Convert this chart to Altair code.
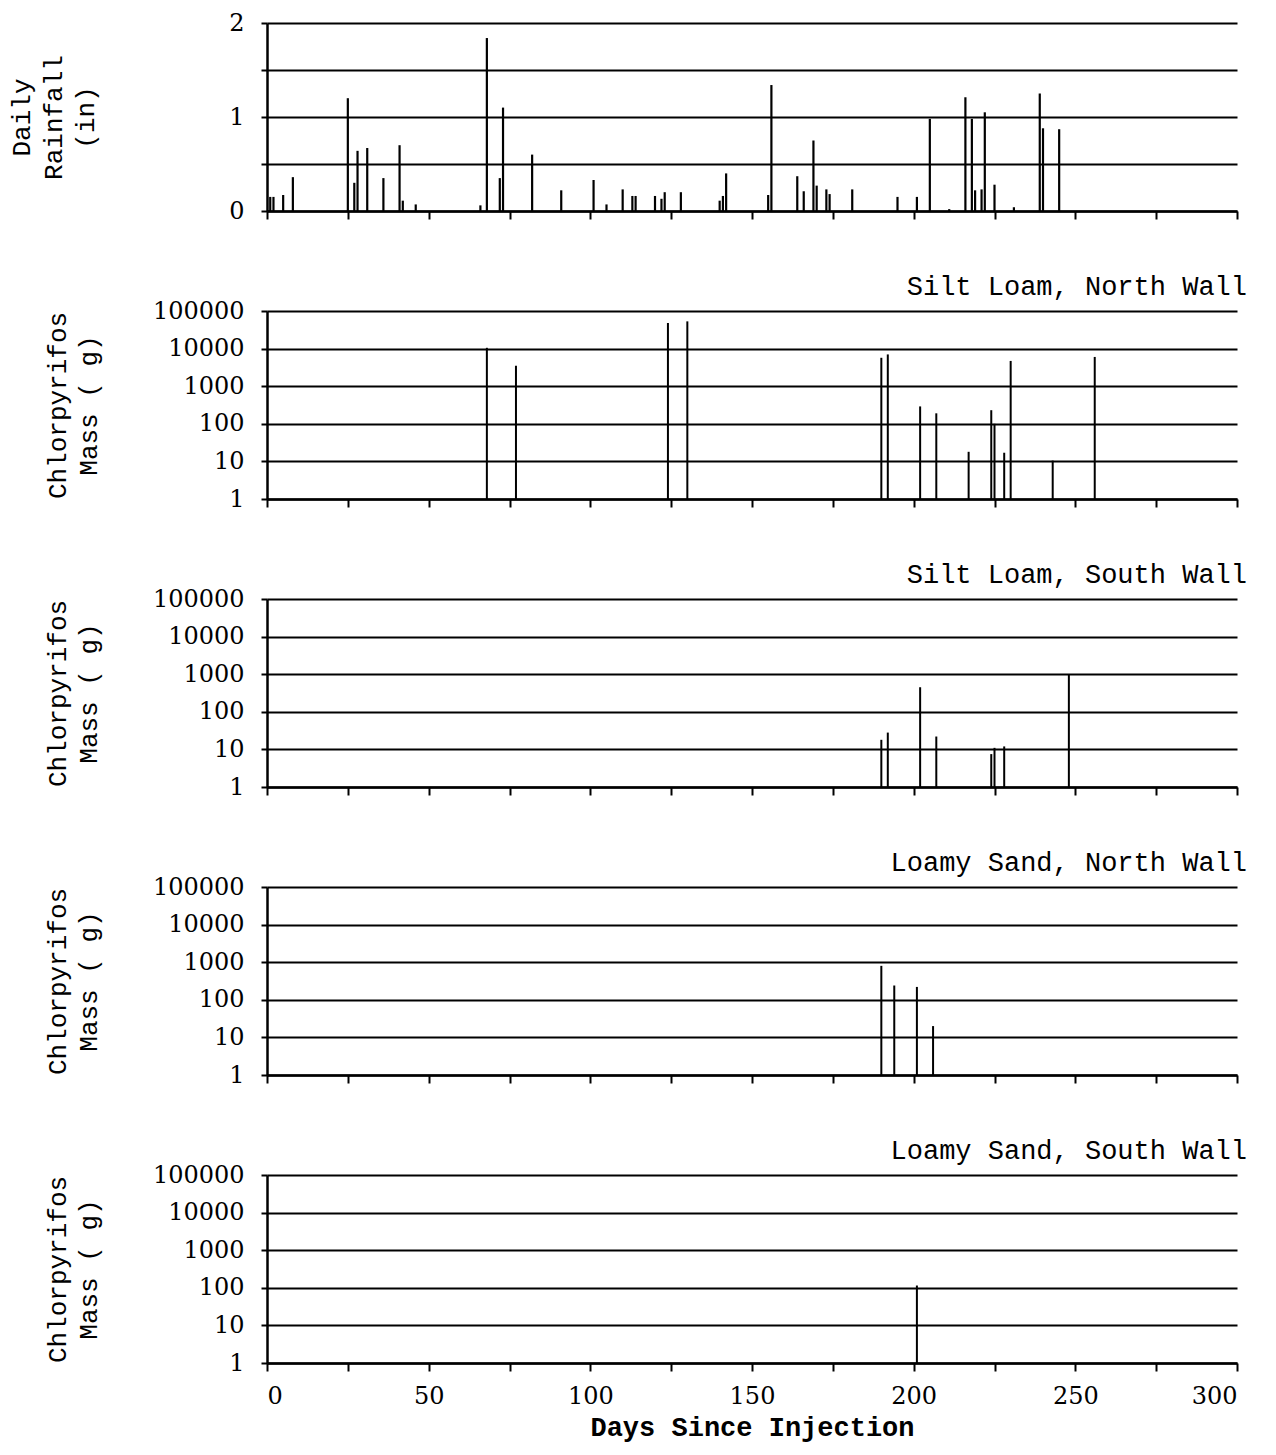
import altair as alt
import pandas as pd

# ---------------- data ----------------
day_ticks = [0, 25, 50, 75, 100, 125, 150, 175, 200, 225, 250, 275, 300]
mass_ticks = [1, 10, 100, 1000, 10000, 100000]
rain_ticks = [0, 0.5, 1, 1.5, 2]

rain_day = [1, 2, 5, 8, 25, 27, 28, 31, 36, 41, 42, 46, 66, 68, 72, 73, 82, 91, 101, 105,
            110, 113, 114, 120, 122, 123, 128, 140, 141, 142, 155, 156, 164, 166, 169, 170,
            173, 174, 181, 195, 201, 205, 211, 216, 218, 219, 221, 222, 225, 231, 239, 240, 245]
rain_in = [0.15, 0.15, 0.17, 0.36, 1.20, 0.30, 0.64, 0.67, 0.35, 0.70, 0.11, 0.07, 0.06, 1.84,
           0.35, 1.10, 0.60, 0.22, 0.33, 0.07, 0.23, 0.16, 0.16, 0.16, 0.13, 0.20, 0.20, 0.11,
           0.16, 0.40, 0.17, 1.34, 0.37, 0.21, 0.75, 0.27, 0.23, 0.18, 0.23, 0.15, 0.15, 0.98,
           0.02, 1.21, 0.98, 0.22, 0.23, 1.05, 0.28, 0.04, 1.25, 0.88, 0.87]

sln_day = [68, 77, 124, 130, 190, 192, 202, 207, 217, 224, 225, 228, 230, 243, 256]
sln_mass = [10500, 3500, 48000, 53000, 5700, 7000, 290, 190, 18, 230, 100, 17, 4700, 10.5, 6000]

sls_day = [190, 192, 202, 207, 224, 225, 228, 248]
sls_mass = [18, 28, 450, 22, 7.5, 11, 12, 960]

lsn_day = [190, 194, 201, 206]
lsn_mass = [800, 240, 220, 20]

lss_day = [201]
lss_mass = [115]

panel_titles = ["Silt Loam, North Wall", "Silt Loam, South Wall",
                "Loamy Sand, North Wall", "Loamy Sand, South Wall"]

# ---------------- style ----------------
W, H = 970, 188
MONO = "Liberation Mono"
SERIF = "DejaVu Serif"
TICK_FS = 24
TITLE_FS = 27


def x_enc(bottom):
    if bottom:
        ax = alt.Axis(values=day_ticks, grid=False, tickSize=8, labelFont=SERIF,
                      labelFontSize=TICK_FS, labelPadding=13,
                      labelExpr="datum.value % 50 == 0 ? datum.label : ''",
                      title="Days Since Injection", titleFont=MONO, titleFontSize=TITLE_FS,
                      titleFontWeight="bold", titlePadding=6)
    else:
        ax = alt.Axis(values=day_ticks, grid=False, tickSize=8, labels=False, title=None)
    return alt.X("day:Q", scale=alt.Scale(domain=[0, 300], nice=False, zero=False), axis=ax)


def mass_panel(days, masses, title, bottom=False, title_offset=-2):
    df = pd.DataFrame({"day": days, "mass": masses})
    y = alt.Y("mass:Q",
              scale=alt.Scale(type="log", domain=[1, 100000], nice=False),
              axis=alt.Axis(values=mass_ticks, format="d", grid=True, tickSize=6,
                            labelFont=SERIF, labelFontSize=TICK_FS, labelPadding=17,
                            labelOverlap=False,
                            title=["Chlorpyrifos", "Mass ( g)"], titleFont=MONO,
                            titleFontSize=TITLE_FS - 1, titleFontWeight="normal",
                            titleLineHeight=31, titlePadding=51))
    return alt.Chart(df).mark_rule(color="black", strokeWidth=2).encode(
        x=x_enc(bottom), y=y, y2=alt.datum(1)
    ).properties(
        width=W, height=H,
        title=alt.TitleParams(text=title, anchor="end", font=MONO, fontSize=TITLE_FS,
                              fontWeight="normal", color="black", offset=title_offset, dx=9)
    )


rain_df = pd.DataFrame({"day": rain_day, "rain": rain_in})
rain = alt.Chart(rain_df).mark_rule(color="black", strokeWidth=2.2).encode(
    x=x_enc(False),
    y=alt.Y("rain:Q", scale=alt.Scale(domain=[0, 2], nice=False),
            axis=alt.Axis(values=rain_ticks, grid=True, tickSize=6,
                          labelExpr="datum.value % 1 == 0 ? format(datum.value, 'd') : ''",
                          labelFont=SERIF, labelFontSize=TICK_FS, labelPadding=17,
                          title=["Daily", "Rainfall", "(in)"], titleFont=MONO,
                          titleFontSize=TITLE_FS - 1, titleFontWeight="normal",
                          titleLineHeight=32, titlePadding=130)),
    y2=alt.datum(0)
).properties(width=W, height=H)

p2 = mass_panel(sln_day, sln_mass, panel_titles[0])
p3 = mass_panel(sls_day, sls_mass, panel_titles[1])
p4 = mass_panel(lsn_day, lsn_mass, panel_titles[2])
p5 = mass_panel(lss_day, lss_mass, panel_titles[3], bottom=True)

chart = alt.vconcat(rain, p2, p3, p4, p5, spacing=50).properties(
    padding={"left": 0, "top": 3, "right": 5, "bottom": 5},
    background="white"
).configure_view(stroke=None).configure_axis(
    domainColor="black", domainWidth=2.5, tickColor="black", tickWidth=2,
    gridColor="black", gridWidth=2, gridOpacity=1,
    labelColor="black", titleColor="black"
)

chart.save("out.html", embed_options={"renderer": "svg", "actions": False})
